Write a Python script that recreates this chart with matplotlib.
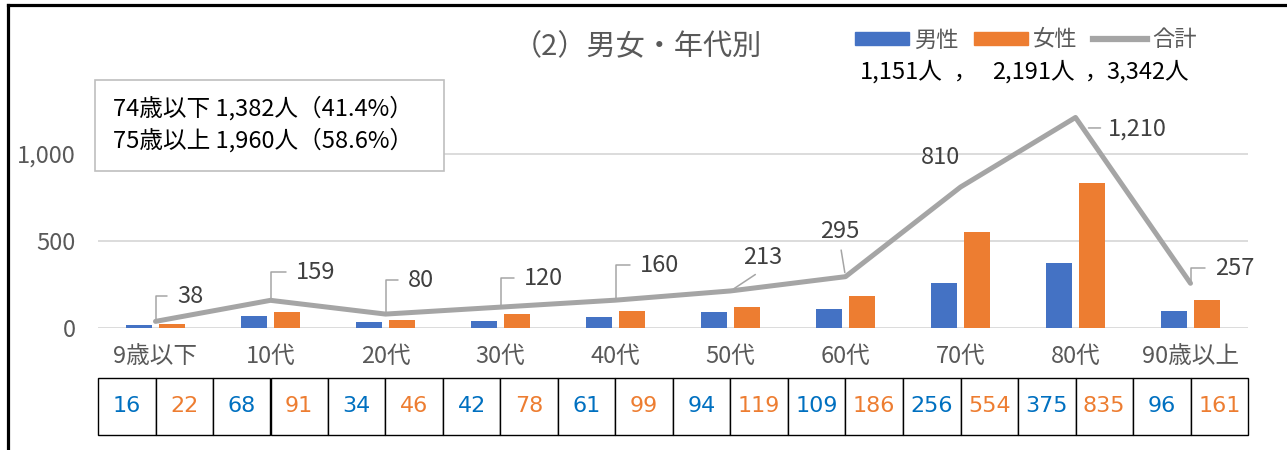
import matplotlib
matplotlib.use("Agg")
from matplotlib import pyplot as plt
from matplotlib.patches import Patch, Rectangle
from matplotlib.lines import Line2D
from matplotlib.transforms import Affine2D
import numpy as np

CJK = ['Noto Sans CJK JP', 'DejaVu Sans']
plt.rcParams['font.family'] = CJK

categories = ['9歳以下', '10代', '20代', '30代', '40代', '50代', '60代', '70代', '80代', '90歳以上']
male = [16, 68, 34, 42, 61, 94, 109, 256, 375, 96]
female = [22, 91, 46, 78, 99, 119, 186, 554, 835, 161]
total = [38, 159, 80, 120, 160, 213, 295, 810, 1210, 257]
total_labels = ['38', '159', '80', '120', '160', '213', '295', '810', '1,210', '257']
ytick_vals = [0, 500, 1000]
ytick_labels = ['0', '500', '1,000']
sum_labels = ['1,151人', '2,191人', '3,342人']

BLUE = '#4472C4'
ORANGE = '#ED7D31'
GRAY = '#A5A5A5'
TXT = '#595959'

W, H = 1287, 450
fig = plt.figure(figsize=(W / 100, H / 100), dpi=100)

def fx(px):
    return px / W

def fy(py):
    return 1 - py / H

ax_left, ax_right, ax_top, ax_bot = 98, 1248, 84.4, 328
ax = fig.add_axes([fx(ax_left), fy(ax_bot), fx(ax_right - ax_left), (ax_bot - ax_top) / H])

x = np.arange(len(categories))
bw = 0.226
off = 0.144
ax.bar(x - off, male, bw, color=BLUE, zorder=2)
ax.bar(x + off, female, bw, color=ORANGE, zorder=2)
ax.plot(x, total, color=GRAY, lw=3.6, zorder=3, solid_capstyle='round', solid_joinstyle='round')

ax.set_xlim(-0.5, len(categories) - 0.5)
ax.set_ylim(0, 1400)
ax.set_yticks(ytick_vals)
ax.set_yticklabels(ytick_labels, fontsize=17)
ax.set_xticks(x)
ax.set_xticklabels(categories, fontsize=17)
ax.tick_params(axis='both', length=0, colors=TXT)
ax.tick_params(axis='y', pad=16)
ax.tick_params(axis='x', pad=12)
ax.grid(axis='y', color='#D9D9D9', lw=1.3, zorder=0)
for s in ax.spines.values():
    s.set_visible(False)

# label offsets in pixels from each point (dx, dy up) and leader kind
label_pos = [(21.5, 25, 'elbow'), (25.5, 28, 'elbow'), (22.5, 34, 'elbow'), (23.5, 29, 'elbow'),
             (24.5, 35, 'elbow'), (32.5, 33, 'straight'), (-5.5, 45, 'straight'),
             (-19.5, 30, 'none'), (32.5, -11.5, 'tick'), (24.5, 15, 'elbow')]
lab_kw = dict(fontsize=17, color='#404040', textcoords='offset pixels', va='center')
for i, (v, lab) in enumerate(zip(total, total_labels)):
    dx, dy, kind = label_pos[i]
    if kind == 'elbow':
        ax.annotate(lab, (i, v), xytext=(dx, dy), ha='left',
                    arrowprops=dict(arrowstyle='-', color=GRAY, lw=1.1, relpos=(0, 0.5),
                                    shrinkA=5, shrinkB=1,
                                    connectionstyle='angle,angleA=180,angleB=90,rad=0'),
                    **lab_kw)
    elif kind == 'straight':
        ax.annotate(lab, (i, v), xytext=(dx, dy), ha='center',
                    arrowprops=dict(arrowstyle='-', color=GRAY, lw=1.1, relpos=(0.5, 0),
                                    shrinkA=3, shrinkB=3),
                    **lab_kw)
    elif kind == 'tick':
        ax.annotate(lab, (i, v), xytext=(dx, dy), ha='left', **lab_kw)
        # short horizontal leader just left of the label
        ax.annotate('', xy=(i, v), xycoords=ax.transData + Affine2D().translate(13, -10.5),
                    xytext=(12, 0), textcoords='offset pixels',
                    arrowprops=dict(arrowstyle='-', color=GRAY, lw=1.1, shrinkA=0, shrinkB=0))
    else:
        ax.annotate(lab, (i, v), xytext=(dx, dy), ha='center', **lab_kw)

# table of values below the axis
tax = fig.add_axes([fx(ax_left), fy(435), fx(ax_right - ax_left), (435 - 378) / H])
tax.axis('off')
cells = []
colors = []
for m, f in zip(male, female):
    cells += [str(m), str(f)]
    colors += ['#0070C0', ORANGE]
tbl = tax.table(cellText=[cells], bbox=[0, 0, 1, 1], cellLoc='center')
tbl.auto_set_font_size(False)
for j in range(len(cells)):
    c = tbl[0, j]
    c.set_edgecolor('black')
    c.set_linewidth(1.0)
    c.get_text().set_color(colors[j])
    c.get_text().set_fontsize(16)
    c.get_text().set_fontfamily('DejaVu Sans')

# title
fig.text(fx(637), fy(47), '（2）男女・年代別', ha='center', va='center', fontsize=21, color=TXT)

# legend
handles = [Patch(color=BLUE), Patch(color=ORANGE), Line2D([], [], color=GRAY, lw=4.5)]
leg = fig.legend(handles, ['男性', '女性', '合計'], loc='center', ncol=3,
                 bbox_to_anchor=(fx(1026), fy(40)), frameon=False, fontsize=16,
                 handlelength=2.4, handleheight=0.55, handletextpad=0.25, columnspacing=0.7,
                 labelcolor=TXT)
sum_x = [901, 1033, 1148]
for sx, s in zip(sum_x, sum_labels):
    fig.text(fx(sx), fy(72), s, ha='center', va='center', fontsize=17, color='black')
for cx in [965, 1096]:
    fig.text(fx(cx), fy(72), '，', ha='center', va='center', fontsize=16, color='black')

# summary box
box = Rectangle((fx(95), fy(171)), fx(444 - 95), (171 - 80) / H, transform=fig.transFigure,
                facecolor='white', edgecolor='#BFBFBF', lw=1.2, zorder=5)
fig.add_artist(box)
fig.text(fx(113), fy(108), '74歳以下 1,382人（41.4%）', ha='left', va='center', fontsize=17,
         color='black', zorder=6)
fig.text(fx(113), fy(140), '75歳以上 1,960人（58.6%）', ha='left', va='center', fontsize=17,
         color='black', zorder=6)

# outer frame
fig.add_artist(Line2D([fx(8), fx(8)], [0, fy(5)], color='black', lw=2.3, transform=fig.transFigure))
fig.add_artist(Line2D([fx(8), 1], [fy(5), fy(5)], color='black', lw=2.3, transform=fig.transFigure))

fig.savefig('out.png', dpi=100)
